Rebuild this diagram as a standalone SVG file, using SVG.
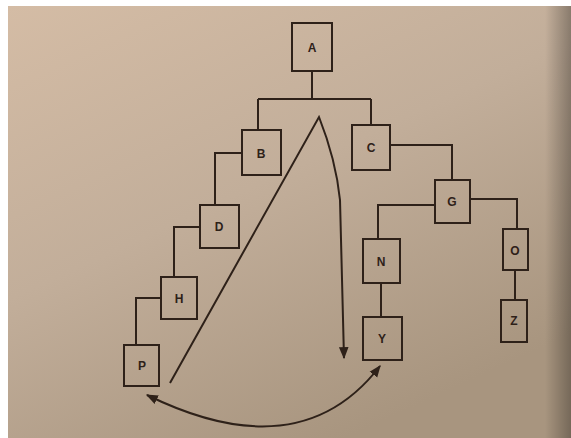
<svg xmlns="http://www.w3.org/2000/svg" width="571" height="438" viewBox="0 0 571 438">
<defs>
<linearGradient id="bg" x1="0" y1="0" x2="0.6" y2="1">
<stop offset="0" stop-color="#d4bca5"/>
<stop offset="0.5" stop-color="#c2ae9a"/>
<stop offset="1" stop-color="#a8957f"/>
</linearGradient>
<linearGradient id="edge" x1="0" y1="0" x2="1" y2="0">
<stop offset="0" stop-color="#000" stop-opacity="0"/>
<stop offset="1" stop-color="#000" stop-opacity="0.3"/>
</linearGradient>
<marker id="arr" viewBox="0 0 10 10" refX="9" refY="5" markerWidth="6" markerHeight="6" orient="auto-start-reverse">
<path d="M0,1 L10,5 L0,9 Z" fill="#2e2119"/>
</marker>
<style>
.box rect{fill:none;stroke:#2e2119;stroke-width:2}
.box text{font-family:"Liberation Sans",Arial,sans-serif;font-weight:bold;font-size:12px;fill:#2e2119;text-anchor:middle;dominant-baseline:central}
.ln{fill:none;stroke:#2e2119;stroke-width:2}
</style>
</defs>
<rect width="571" height="438" fill="#fff"/>
<rect x="8" y="6" width="563" height="432" fill="url(#bg)"/>
<rect x="545" y="6" width="26" height="432" fill="url(#edge)"/>
<g id="connectors">
<path class="ln" d="M312,71 V99 M258,99 H371 M258,99 V130 M371,99 V125"/>
<path class="ln" d="M242,153 H215 V205 M200,227 H174 V277 M161,298 H136 V345"/>
<path class="ln" d="M390,145 H452 V180 M435,205 H378 V239 M470,199 H517 V229 M381,283 V317 M515,270 V300"/>
<path class="ln" d="M170,383 L319,117 Q336,160 340,200 L344,358" marker-end="url(#arr)"/>
<path class="ln" d="M380,366 Q300,470 147,395" marker-start="url(#arr)" marker-end="url(#arr)"/>
</g>
<g id="A" class="box"><rect x="292" y="23" width="40" height="48"/><text x="312" y="48">A</text></g>
<g id="B" class="box"><rect x="242" y="130" width="39" height="45"/><text x="261" y="154">B</text></g>
<g id="C" class="box"><rect x="352" y="125" width="38" height="45"/><text x="371" y="148">C</text></g>
<g id="D" class="box"><rect x="200" y="205" width="39" height="43"/><text x="219" y="227">D</text></g>
<g id="H" class="box"><rect x="161" y="277" width="36" height="42"/><text x="179" y="299">H</text></g>
<g id="P" class="box"><rect x="124" y="345" width="35" height="41"/><text x="142" y="366">P</text></g>
<g id="G" class="box"><rect x="435" y="180" width="35" height="43"/><text x="452" y="202">G</text></g>
<g id="N" class="box"><rect x="363" y="239" width="37" height="44"/><text x="381" y="262">N</text></g>
<g id="Y" class="box"><rect x="363" y="317" width="39" height="43"/><text x="382" y="339">Y</text></g>
<g id="O" class="box"><rect x="503" y="229" width="25" height="41"/><text x="515" y="251">O</text></g>
<g id="Z" class="box"><rect x="501" y="300" width="26" height="42"/><text x="514" y="321">Z</text></g>
</svg>
